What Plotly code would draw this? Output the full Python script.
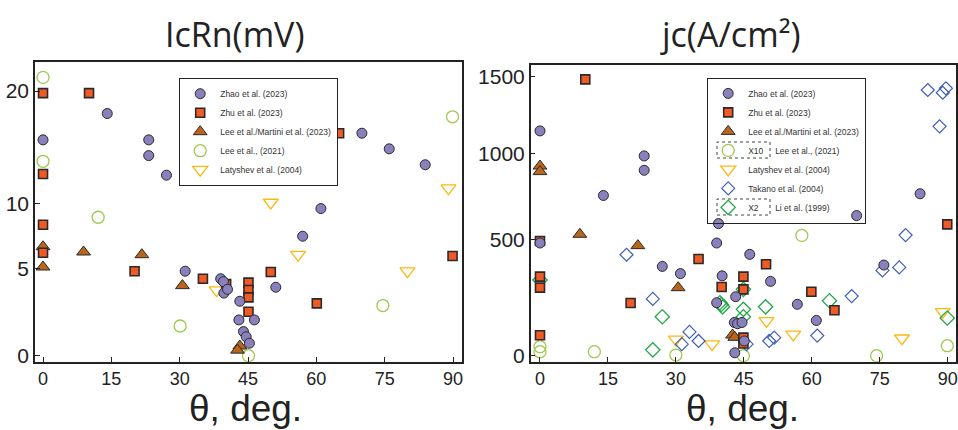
import plotly.graph_objects as go

# ---------------- data: left panel  (IcRn, mV) ----------------
zhao_theta_l = [0, 14.1, 23.2, 23.2, 27.1, 31.2, 39.0, 39.6, 39.7, 40.5, 43.2, 43.0, 44.0, 44.6, 45.3, 46.4, 51.1, 57.0, 61.0, 70.0, 76.0, 83.9]
zhao_icrn = [15.5, 17.9, 15.5, 14.1, 12.4, 4.8, 4.27, 4.07, 3.3, 3.55, 2.77, 1.64, 1.0, 0.74, 0.44, 1.64, 3.69, 7.4, 9.6, 16.1, 14.7, 13.3]

zhu_theta_l = [0, 10.1, 0, 0, 0, 20.1, 35.1, 40.2, 45.1, 45.1, 45.1, 45.1, 50.0, 60.1, 65.0, 89.9]
zhu_icrn = [19.8, 19.8, 12.5, 8.3, 6.15, 4.8, 4.27, 3.9, 4.0, 3.5, 3.02, 2.12, 4.74, 2.64, 16.1, 5.9]

lm_theta_l = [0, 0, 8.9, 21.7, 30.6, 43.2, 42.7]
lm_icrn = [6.6, 5.1, 6.2, 6.0, 3.8, 0.32, 0.16]

l21_theta_l = [0, 0, 12.1, 30.1, 45.1, 74.6, 89.9]
l21_icrn = [21.3, 13.6, 8.9, 1.3, 0.0, 2.5, 17.6]

lat_theta_l = [38.1, 50.0, 56.0, 80.0, 89.0]
lat_icrn = [3.5, 10.1, 6.0, 4.8, 11.3]

# ---------------- data: right panel  (jc, A/cm^2) ----------------
zhao_theta_r = [0, 0, 14.0, 23.0, 23.0, 27.0, 31.0, 39.0, 39.4, 40.2, 39.0, 43.2, 42.9, 43.6, 44.6, 43.0, 45.1, 46.3, 50.9, 56.8, 61.0, 69.9, 75.9, 83.9]
zhao_jc = [1145, 483, 750, 988, 900, 361, 325, 483, 589, 314, 188, 215, 105, 100, 105, 5, 38, 423, 287, 181, 113, 634, 368, 760]

zhu_theta_r = [10.0, 0, 0, 0, 0, 20.0, 35.0, 40.1, 44.9, 44.9, 44.9, 44.9, 49.9, 59.9, 65.0, 89.9]
zhu_jc = [1482, 494, 310, 257, 57, 187, 399, 260, 310, 249, 49, 30, 372, 238, 155, 585]

lm_theta_r = [0, 0, 8.8, 21.6, 30.5, 42.5, 43.0]
lm_jc = [926, 892, 530, 469, 257, 58, 50]

l21_theta_r = [0, 0, 12.0, 30.0, 44.9, 57.8, 74.3, 89.9]
l21_jc = [20.5, 7.4, 7.4, 0.8, 0, 524, 0, 23.4]

lat_theta_r = [30.0, 38.0, 50.0, 55.9, 79.9, 88.9]
lat_jc = [43, 28, 111, 60, 47, 148]

tak_theta_r = [19.1, 24.9, 31.3, 33.0, 35.0, 45.6, 50.6, 51.7, 61.2, 68.8, 75.6, 79.3, 80.7, 85.6, 88.2, 88.9, 89.6]
tak_jc = [421, 205, 28, 69, 38, 28, 38, 49, 56, 218, 341, 356, 526, 1411, 1174, 1393, 1422]

li_theta_r = [0, 24.9, 27.0, 39.7, 40.3, 40.0, 44.9, 44.9, 44.9, 49.8, 63.9, 89.9]
li_jc = [294, 12, 128, 188, 170, 180, 249, 159, 128, 170, 197, 123]

icrn_ticks = [0, 5, 10, 20]
jc_ticks = [0, 500, 1000, 1500]
theta_ticks = [0, 15, 30, 45, 60, 75, 90]

POW = 0.8  # the original value axes use a power (y^0.8) scale


def p(vals):
    return [v ** POW for v in vals]


# ---------------- styles ----------------
EDGE = "#2a2a2a"
st_zhao = dict(symbol="circle", size=10, color="#8a80bd", line=dict(color=EDGE, width=1))
st_zhu = dict(symbol="square", size=9, color="#f15a24", line=dict(color=EDGE, width=1.6))
st_lm = dict(symbol="triangle-up", size=12, color="#b9651c", line=dict(color=EDGE, width=1))
st_l21 = dict(symbol="circle-open", size=12, color="#9dc94f", line=dict(width=1.3))
st_lat = dict(symbol="triangle-down-open", size=13, color="#fdb813", line=dict(width=1.3))
st_tak = dict(symbol="diamond-open", size=10, color="#3d5fb5", line=dict(width=1.2))
st_li = dict(symbol="diamond-open", size=11, color="#22a84a", line=dict(width=1.3))

fig = go.Figure()

left = [
    ("Lee et al., (2021)", l21_theta_l, l21_icrn, st_l21, 4),
    ("Latyshev et al. (2004)", lat_theta_l, lat_icrn, st_lat, 5),
    ("Lee et al./Martini et al. (2023)", lm_theta_l, lm_icrn, st_lm, 3),
    ("Zhu et al. (2023)", zhu_theta_l, zhu_icrn, st_zhu, 2),
    ("Zhao et al. (2023)", zhao_theta_l, zhao_icrn, st_zhao, 1),
]
for name, xs, ys, st, rk in left:
    fig.add_trace(go.Scatter(x=xs, y=p(ys), mode="markers", name=name, marker=st,
                             xaxis="x", yaxis="y", legend="legend", legendrank=rk))

NB = "\u00a0"
right = [
    ("X10" + NB * 5 + "Lee et al., (2021)", l21_theta_r, l21_jc, st_l21, 4),
    ("Latyshev et al. (2004)", lat_theta_r, lat_jc, st_lat, 5),
    ("Takano et al. (2004)", tak_theta_r, tak_jc, st_tak, 6),
    ("X2" + NB * 7 + "Li et al. (1999)", li_theta_r, li_jc, st_li, 7),
    ("Lee et al./Martini et al. (2023)", lm_theta_r, lm_jc, st_lm, 3),
    ("Zhu et al. (2023)", zhu_theta_r, zhu_jc, st_zhu, 2),
    ("Zhao et al. (2023)", zhao_theta_r, zhao_jc, st_zhao, 1),
]
for name, xs, ys, st, rk in right:
    fig.add_trace(go.Scatter(x=xs, y=p(ys), mode="markers", name=name, marker=st,
                             xaxis="x2", yaxis="y2", legend="legend2", legendrank=rk))

W, H = 958, 430


def px(xp):
    return xp / W


def py(yp):
    return 1 - yp / H


axis_common = dict(showline=True, linecolor="#222", linewidth=1.5, mirror=True,
                   ticks="inside", ticklen=5, tickwidth=1.2, tickcolor="#222",
                   showgrid=False, zeroline=False, automargin=False)
xfont = dict(family="Liberation Sans Narrow, Arial Narrow, Liberation Sans, Arial", size=18, color="#222")
yfont = dict(family="Liberation Sans, Arial", size=21, color="#222")

legend_common = dict(bordercolor="#222", borderwidth=1.2,
                     font=dict(family="Liberation Sans, Arial", size=8.5, color="#333"),
                     xanchor="left", yanchor="top", itemwidth=30, traceorder="normal")

fig.update_layout(
    width=W, height=H, template="none",
    paper_bgcolor="white", plot_bgcolor="white",
    margin=dict(l=0, r=0, t=0, b=0),
    showlegend=True,
    xaxis=dict(domain=[px(35), px(462.3)], range=[-1.76, 92.04], tickvals=theta_ticks,
               tickfont=xfont, anchor="y", **axis_common),
    yaxis=dict(domain=[py(361.7), py(61.7)], range=[-0.249, 12.204],
               tickvals=p(icrn_ticks), ticktext=[str(v) for v in icrn_ticks],
               tickfont=yfont, anchor="x", **axis_common),
    xaxis2=dict(domain=[px(530.7), px(956)], range=[-2.05, 91.83], tickvals=theta_ticks,
                tickfont=xfont, anchor="y2", **axis_common),
    yaxis2=dict(domain=[py(361.7), py(65)], range=[-7.47, 362.0],
                tickvals=p(jc_ticks), ticktext=[str(v) for v in jc_ticks],
                tickfont=yfont, anchor="x2", **axis_common),
    legend=dict(x=px(179), y=py(78), bgcolor="white", **legend_common),
    legend2=dict(x=px(707), y=py(77.7), bgcolor="rgba(255,255,255,0)", **legend_common),
)

# dotted boxes around the scaled-series keys ("X10", "X2") in the right legend
for y0, y1 in [(142, 158), (199, 215)]:
    fig.add_shape(type="rect", xref="paper", yref="paper",
                  x0=px(717), x1=px(770), y0=py(y1), y1=py(y0),
                  line=dict(color="#444", width=1, dash="dot"), layer="below")

title_font = dict(family="Open Sans, Noto Sans, sans-serif", size=34, color="#222")
axis_title_font = dict(family="Liberation Sans Narrow, Arial Narrow, Liberation Sans", size=37, color="#222")
fig.add_annotation(text="IcRn(mV)", x=px(234.5), y=py(34), xref="paper", yref="paper",
                   showarrow=False, font=title_font, xanchor="center", yanchor="middle")
fig.add_annotation(text="jc(A/cm²)", x=px(730), y=py(34), xref="paper", yref="paper",
                   showarrow=False, font=title_font, xanchor="center", yanchor="middle")
fig.add_annotation(text="θ, deg.", x=px(245), y=py(408), xref="paper", yref="paper",
                   showarrow=False, font=axis_title_font, xanchor="center", yanchor="middle")
fig.add_annotation(text="θ, deg.", x=px(742), y=py(408), xref="paper", yref="paper",
                   showarrow=False, font=axis_title_font, xanchor="center", yanchor="middle")

fig.write_html("out.html", config={"displayModeBar": False},
               post_script="document.body.style.margin='0';document.body.style.overflow='hidden';")
